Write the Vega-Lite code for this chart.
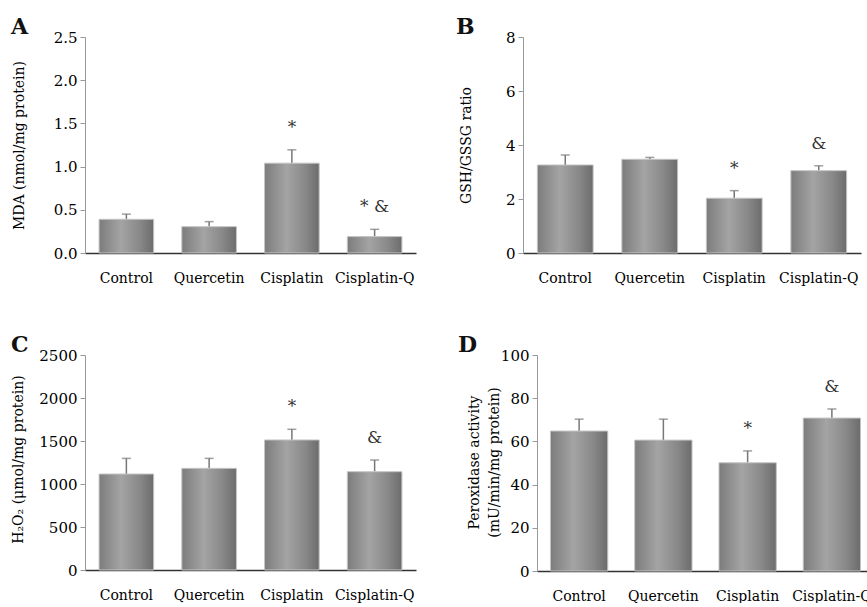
{
  "$schema": "https://vega.github.io/schema/vega-lite/v6.json",
  "background": "white",
  "padding": {"left": 10, "top": 16, "right": 0, "bottom": 0},
  "bounds": "flush",
  "spacing": 318,
  "config": {
    "font": "DejaVu Serif",
    "view": {"stroke": null},
    "title": {"fontSize": 22, "fontWeight": "bold", "color": "#111", "anchor": "start", "frame": "group", "offset": -9, "baseline": "alphabetic"},
    "axisX": {"title": null, "labelAngle": 0, "ticks": false, "tickSize": 0, "domainColor": "#333", "domainWidth": 1.5, "labelFontSize": 14, "labelColor": "#000", "labelPadding": 18, "labelFont": "DejaVu Serif"},
    "axisY": {"grid": false, "domainColor": "#999", "domainWidth": 1, "tickColor": "#999", "tickSize": 5, "labelFontSize": 15, "labelColor": "#000", "labelPadding": 3, "labelFont": "DejaVu Serif", "titleFont": "DejaVu Serif", "titleFontSize": 14, "titleFontWeight": "normal", "titleColor": "#000", "titleBaseline": "middle", "titleY": 108},
    "bar": {"color": {"gradient": "linear", "x1": 0, "x2": 1, "y1": 0, "y2": 0, "stops": [{"offset": 0, "color": "#7c7c7c"}, {"offset": 0.4, "color": "#a4a4a4"}, {"offset": 0.75, "color": "#888888"}, {"offset": 1, "color": "#6c6c6c"}]}, "stroke": "#c4c4c4", "strokeWidth": 1},
    "rule": {"color": "#777", "strokeWidth": 1.5},
    "tick": {"color": "#777", "thickness": 1.5, "size": 9},
    "text": {"font": "DejaVu Serif", "fontSize": 17, "color": "#333", "baseline": "alphabetic", "dy": -17}
  },
  "vconcat": [
    {
      "bounds": "flush",
      "spacing": 107,
      "hconcat": [
        {
          "width": 331, "height": 216,
          "title": {"text": "A", "dx": -74},
          "data": {"values": [
            {"group": "Control", "value": 0.39, "upper": 0.45, "sig": ""},
            {"group": "Quercetin", "value": 0.305, "upper": 0.363, "sig": ""},
            {"group": "Cisplatin", "value": 1.04, "upper": 1.194, "sig": "*"},
            {"group": "Cisplatin-Q", "value": 0.19, "upper": 0.274, "sig": "* &"}
          ]},
          "encoding": {"x": {"field": "group", "type": "nominal", "sort": null, "scale": {"paddingInner": 0.34, "paddingOuter": 0.17}}},
          "layer": [
            {"mark": "rule", "encoding": {"y": {"field": "value", "type": "quantitative", "title": "MDA (nmol/mg protein)"}, "y2": {"field": "upper"}}},
            {"mark": "tick", "encoding": {"y": {"field": "upper", "type": "quantitative", "title": "MDA (nmol/mg protein)"}}},
            {"mark": "bar", "encoding": {"y": {"field": "value", "type": "quantitative", "title": "MDA (nmol/mg protein)", "scale": {"domain": [0, 2.5], "nice": false}, "axis": {"values": [0, 0.5, 1, 1.5, 2, 2.5], "format": ".1f", "titleX": -66}}}},
            {"mark": "text", "encoding": {"y": {"field": "upper", "type": "quantitative", "title": "MDA (nmol/mg protein)"}, "text": {"field": "sig"}}}
          ]
        },
        {
          "width": 338, "height": 216,
          "title": {"text": "B", "dx": -67},
          "data": {"values": [
            {"group": "Control", "value": 3.26, "upper": 3.63, "sig": ""},
            {"group": "Quercetin", "value": 3.47, "upper": 3.54, "sig": ""},
            {"group": "Cisplatin", "value": 2.03, "upper": 2.31, "sig": "*"},
            {"group": "Cisplatin-Q", "value": 3.05, "upper": 3.23, "sig": "&"}
          ]},
          "encoding": {"x": {"field": "group", "type": "nominal", "sort": null, "scale": {"paddingInner": 0.34, "paddingOuter": 0.17}}},
          "layer": [
            {"mark": "rule", "encoding": {"y": {"field": "value", "type": "quantitative", "title": "GSH/GSSG ratio"}, "y2": {"field": "upper"}}},
            {"mark": "tick", "encoding": {"y": {"field": "upper", "type": "quantitative", "title": "GSH/GSSG ratio"}}},
            {"mark": "bar", "encoding": {"y": {"field": "value", "type": "quantitative", "title": "GSH/GSSG ratio", "scale": {"domain": [0, 8], "nice": false}, "axis": {"values": [0, 2, 4, 6, 8], "titleX": -57}}}},
            {"mark": "text", "encoding": {"y": {"field": "upper", "type": "quantitative", "title": "GSH/GSSG ratio"}, "text": {"field": "sig"}}}
          ]
        }
      ]
    },
    {
      "bounds": "flush",
      "spacing": 121,
      "hconcat": [
        {
          "width": 331, "height": 215,
          "title": {"text": "C", "dx": -74},
          "data": {"values": [
            {"group": "Control", "value": 1116, "upper": 1298, "sig": ""},
            {"group": "Quercetin", "value": 1182, "upper": 1298, "sig": ""},
            {"group": "Cisplatin", "value": 1512, "upper": 1636, "sig": "*"},
            {"group": "Cisplatin-Q", "value": 1143, "upper": 1279, "sig": "&"}
          ]},
          "encoding": {"x": {"field": "group", "type": "nominal", "sort": null, "scale": {"paddingInner": 0.34, "paddingOuter": 0.17}}},
          "layer": [
            {"mark": "rule", "encoding": {"y": {"field": "value", "type": "quantitative", "title": "H₂O₂  (μmol/mg protein)"}, "y2": {"field": "upper"}}},
            {"mark": "tick", "encoding": {"y": {"field": "upper", "type": "quantitative", "title": "H₂O₂  (μmol/mg protein)"}}},
            {"mark": "bar", "encoding": {"y": {"field": "value", "type": "quantitative", "title": "H₂O₂  (μmol/mg protein)", "scale": {"domain": [0, 2500], "nice": false}, "axis": {"values": [0, 500, 1000, 1500, 2000, 2500], "format": "d", "titleX": -67, "titleY": 104}}}},
            {"mark": "text", "encoding": {"y": {"field": "upper", "type": "quantitative", "title": "H₂O₂  (μmol/mg protein)"}, "text": {"field": "sig"}}}
          ]
        },
        {
          "width": 337, "height": 216,
          "title": {"text": "D", "dx": -79},
          "data": {"values": [
            {"group": "Control", "value": 64.8, "upper": 70.3, "sig": ""},
            {"group": "Quercetin", "value": 60.6, "upper": 70.3, "sig": ""},
            {"group": "Cisplatin", "value": 50.1, "upper": 55.6, "sig": "*"},
            {"group": "Cisplatin-Q", "value": 70.8, "upper": 75.0, "sig": "&"}
          ]},
          "encoding": {"x": {"field": "group", "type": "nominal", "sort": null, "scale": {"paddingInner": 0.32, "paddingOuter": 0.16}}},
          "layer": [
            {"mark": "rule", "encoding": {"y": {"field": "value", "type": "quantitative", "title": ["Peroxidase activity", "(mU/min/mg protein)"]}, "y2": {"field": "upper"}}},
            {"mark": "tick", "encoding": {"y": {"field": "upper", "type": "quantitative", "title": ["Peroxidase activity", "(mU/min/mg protein)"]}}},
            {"mark": "bar", "encoding": {"y": {"field": "value", "type": "quantitative", "title": ["Peroxidase activity", "(mU/min/mg protein)"], "scale": {"domain": [0, 100], "nice": false}, "axis": {"values": [0, 20, 40, 60, 80, 100], "titleX": -63, "titleY": 107, "titleLineHeight": 20}}}},
            {"mark": "text", "encoding": {"y": {"field": "upper", "type": "quantitative", "title": ["Peroxidase activity", "(mU/min/mg protein)"]}, "text": {"field": "sig"}}}
          ]
        }
      ]
    }
  ]
}
